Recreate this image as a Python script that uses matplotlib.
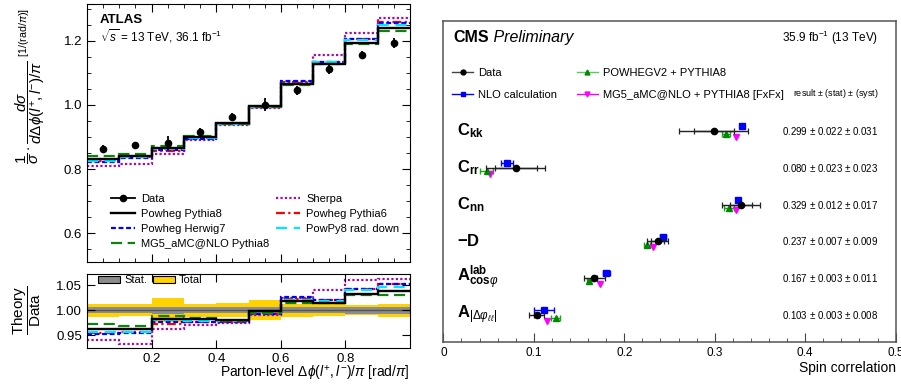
import numpy as np
import matplotlib
matplotlib.use("Agg")
import matplotlib.pyplot as plt
from matplotlib.lines import Line2D
from matplotlib.patches import Patch

plt.rcParams['font.family'] = ['Liberation Sans', 'DejaVu Sans']
plt.rcParams['mathtext.fontset'] = 'custom'
plt.rcParams['mathtext.rm'] = 'Liberation Sans'
plt.rcParams['mathtext.it'] = 'Liberation Sans:italic'
plt.rcParams['mathtext.bf'] = 'Liberation Sans:bold'
plt.rcParams['mathtext.sf'] = 'Liberation Sans'

# ---------------- Left panel data (ATLAS) ----------------
bin_edges = [0.0, 0.1, 0.2, 0.3, 0.4, 0.5, 0.6, 0.7, 0.8, 0.9, 1.0]
data_vals = [0.863, 0.875, 0.881, 0.917, 0.962, 1.000, 1.045, 1.111, 1.156, 1.194]
total_rel = [0.013, 0.012, 0.024, 0.013, 0.014, 0.020, 0.013, 0.012, 0.010, 0.013]
stat_rel = [0.006, 0.006, 0.007, 0.006, 0.006, 0.006, 0.006, 0.006, 0.007, 0.007]

ratio_powheg_py8 = [0.963, 0.962, 0.983, 0.982, 0.980, 0.998, 1.019, 1.015, 1.033, 1.039]
ratio_powheg_hw7 = [0.952, 0.954, 0.977, 0.976, 0.977, 0.993, 1.027, 1.021, 1.042, 1.052]
ratio_mg5_py8 = [0.973, 0.968, 0.989, 0.985, 0.978, 0.995, 1.015, 1.015, 1.030, 1.031]
ratio_sherpa = [0.940, 0.933, 0.963, 0.970, 0.975, 0.991, 1.025, 1.040, 1.060, 1.063]
ratio_powheg_py6 = [0.955, 0.956, 0.973, 0.977, 0.977, 0.993, 1.022, 1.020, 1.042, 1.053]
ratio_raddown = [0.957, 0.957, 0.981, 0.978, 0.978, 0.994, 1.020, 1.019, 1.040, 1.047]

# ---------------- Right panel data (CMS) ----------------
obs_labels = [r'$\mathbf{C}_{\mathbf{kk}}$', r'$\mathbf{C}_{\mathbf{rr}}$', r'$\mathbf{C}_{\mathbf{nn}}$',
              r'$\mathbf{-D}$', r'$\mathbf{A}^{\mathbf{lab}}_{\mathbf{cos}\varphi}$',
              r'$\mathbf{A}_{|\Delta\varphi_{\ell\ell}|}$']
cms_data = [0.299, 0.080, 0.329, 0.237, 0.167, 0.103]
cms_stat = [0.022, 0.023, 0.012, 0.007, 0.003, 0.003]
cms_syst = [0.031, 0.023, 0.017, 0.009, 0.011, 0.008]
nlo_vals = [0.330, 0.0705, 0.3255, 0.2427, 0.180, 0.1114]
nlo_err = [0.002, 0.0068, 0.002, 0.0037, 0.0037, 0.0107]
powheg_vals = [0.3127, 0.0478, 0.3156, 0.225, 0.1607, 0.1243]
powheg_err = [0.0045, 0.007, 0.0055, 0.0037, 0.002, 0.005]
mg5_vals = [0.324, 0.0518, 0.323, 0.232, 0.1736, 0.1143]

fig = plt.figure(figsize=(9.01, 3.85), dpi=100)
ax1 = fig.add_axes([0.0966, 0.3195, 0.3585, 0.670])
ax2 = fig.add_axes([0.0966, 0.0961, 0.3585, 0.1922])
ax3 = fig.add_axes([0.4921, 0.1125, 0.502, 0.8338])

data_arr = np.array(data_vals)
models = [
    ("Sherpa", ratio_sherpa, dict(color='#a010a0', ls=(0, (1, 1)), lw=1.6)),
    ("Powheg Pythia6", ratio_powheg_py6, dict(color='#ff0000', ls=(0, (4, 1.5, 1, 1.5)), lw=1.6)),
    ("Powheg Herwig7", ratio_powheg_hw7, dict(color='#0000ff', ls=(0, (2.2, 1.2)), lw=1.6)),
    ("PowPy8 rad. down", ratio_raddown, dict(color='#00e8ff', ls=(0, (5, 3)), lw=1.6)),
    ("MG5_aMC@NLO Pythia8", ratio_mg5_py8, dict(color='#108010', ls=(0, (5, 2.5)), lw=1.6)),
    ("Powheg Pythia8", ratio_powheg_py8, dict(color='black', ls='-', lw=1.7)),
]
handles = {}
for name, ratio, st in models:
    ratio = np.array(ratio)
    ax1.stairs(ratio * data_arr, bin_edges, baseline=None, **st)
    ax2.stairs(ratio, bin_edges, baseline=None, **st)
    handles[name] = Line2D([], [], **st)

centers = 0.5 * (np.array(bin_edges[:-1]) + np.array(bin_edges[1:]))
ax1.errorbar(centers, data_vals, yerr=data_arr * np.array(total_rel), fmt='o', color='black',
             ms=4.5, elinewidth=1.3, capsize=0, zorder=5)
handles["Data"] = Line2D([], [], color='black', marker='o', ms=4.5, lw=1.3)

ax1.set_xlim(0, 1)
ax1.set_ylim(0.511, 1.314)
ax1.set_yticks([0.6, 0.8, 1.0, 1.2])
ax1.set_yticks(np.arange(0.55, 1.31, 0.05), minor=True)
ax1.set_xticks([0.2, 0.4, 0.6, 0.8])
ax1.set_xticks(np.arange(0.05, 1.0, 0.05), minor=True)
ax1.tick_params(axis='both', which='both', direction='in', top=True, right=True, labelsize=9.5)
ax1.tick_params(which='major', length=6)
ax1.tick_params(which='minor', length=3)
ax1.tick_params(axis='x', labelbottom=False)
ax1.yaxis.set_major_formatter(matplotlib.ticker.FormatStrFormatter('%.1f'))

order = ["Data", "Powheg Pythia8", "Powheg Herwig7", "MG5_aMC@NLO Pythia8",
         "Sherpa", "Powheg Pythia6", "PowPy8 rad. down"]
ax1.legend([handles[n] for n in order], order, ncol=2, loc='upper left',
           bbox_to_anchor=(0.075, 0.265), frameon=False, fontsize=8, borderpad=0,
           borderaxespad=0, handlelength=2.1, handletextpad=0.6, columnspacing=0.6,
           labelspacing=0.45)

ax1.text(0.04, 0.94, 'ATLAS', transform=ax1.transAxes, fontsize=9.5, fontweight='bold',
         va='center', ha='left')
ax1.text(0.04, 0.875, r'$\sqrt{s}$ = 13 TeV, 36.1 fb$^{-1}$', transform=ax1.transAxes,
         fontsize=8.5, va='center', ha='left')

# ratio panel
tot = np.array(total_rel)
stt = np.array(stat_rel)
ax2.stairs(1 + tot, bin_edges, baseline=1 - tot, fill=True, color='#ffd200', zorder=0.5)
ax2.stairs(1 + stt, bin_edges, baseline=1 - stt, fill=True, color='#8c8c8c', zorder=0.6)
ax2.axhline(1.0, color='#555555', lw=1.0, zorder=0.7)
ax2.set_xlim(0, 1)
ax2.set_ylim(0.924, 1.072)
ax2.set_yticks([0.95, 1.00, 1.05])
ax2.set_xticks([0.2, 0.4, 0.6, 0.8])
ax2.yaxis.set_major_formatter(matplotlib.ticker.FormatStrFormatter('%.2f'))
ax2.xaxis.set_major_formatter(matplotlib.ticker.FormatStrFormatter('%.1f'))
ax2.tick_params(axis='both', direction='in', top=True, right=True, labelsize=9.5, length=6)
ax2.legend([Patch(facecolor='#8c8c8c', edgecolor='black', lw=0.8),
            Patch(facecolor='#ffd200', edgecolor='black', lw=0.8)], ['Stat.', 'Total'],
           ncol=2, loc='upper left', bbox_to_anchor=(0.035, 0.98), frameon=False, fontsize=8,
           borderpad=0, borderaxespad=0, handlelength=1.95, handleheight=0.7,
           handletextpad=0.4, columnspacing=0.5)
ax2.set_xlabel(r'Parton-level $\Delta\phi(l^{+}, l^{-})/\pi$ [rad/$\pi$]', fontsize=10,
               ha='right', va='center')
ax2.xaxis.set_label_coords(1.0, -0.34)

fig.text(0.033, 0.979,
         r'$\dfrac{1}{\sigma}\cdot\dfrac{d\sigma}{d\Delta\phi(l^{+}, l^{-})/\pi}\ ^{[1/(\mathrm{rad}/\pi)]}$',
         rotation=90, ha='center', va='top', fontsize=11)
fig.text(0.03, 0.195, r'$\dfrac{\mathrm{Theory}}{\mathrm{Data}}$', rotation=90,
         ha='center', va='center', fontsize=11)

# ---------------- Right panel ----------------
rows = np.arange(len(cms_data))
cd = np.array(cms_data)
total_unc = np.sqrt(np.array(cms_stat) ** 2 + np.array(cms_syst) ** 2)
ax3.errorbar(nlo_vals, rows - 0.13, xerr=nlo_err, fmt='s', color='#0000ff', ms=4.5,
             elinewidth=1.0, capsize=2.5, capthick=1.0, zorder=4)
ax3.errorbar(powheg_vals, rows + 0.09, xerr=powheg_err, fmt='^', color='#11aa11', ms=4,
             mfc='#008800', mec='#008800', elinewidth=1.0, capsize=2.5, capthick=1.0, zorder=4)
ax3.plot(mg5_vals, rows + 0.16, 'v', color='#ff00ff', ms=4.5, zorder=4, ls='none')
ax3.errorbar(cd, rows, xerr=total_unc, fmt='none', ecolor='#222222', elinewidth=1.0,
             capsize=2.5, capthick=0.9, zorder=5)
ax3.errorbar(cd, rows, xerr=cms_stat, fmt='o', color='black', ecolor='#222222', ms=4.5,
             elinewidth=1.0, capsize=2.5, capthick=0.9, zorder=6)

for i, lab in enumerate(obs_labels):
    ax3.text(0.03, rows[i], lab, transform=ax3.get_yaxis_transform(), fontsize=12,
             va='center', ha='left')
    ax3.text(0.962, rows[i], f"{cms_data[i]:.3f} $\\pm$ {cms_stat[i]:.3f} $\\pm$ {cms_syst[i]:.3f}",
             transform=ax3.get_yaxis_transform(), fontsize=7, va='center', ha='right')

ax3.set_xlim(0, 0.5)
ax3.set_ylim(5.73, -3.0)
ax3.set_yticks([])
ax3.set_xticks([0, 0.1, 0.2, 0.3, 0.4, 0.5])
ax3.set_xticklabels(['0', '0.1', '0.2', '0.3', '0.4', '0.5'])
ax3.set_xticks(np.arange(0.02, 0.5, 0.02), minor=True)
ax3.tick_params(axis='x', which='both', direction='in', colors='#444444', labelcolor='black',
                labelsize=8.5)
ax3.tick_params(axis='x', which='major', length=6.5, pad=4)
ax3.tick_params(axis='x', which='minor', length=3.2)
for sp in ax3.spines.values():
    sp.set_color('#555555')
    sp.set_linewidth(1.1)
ax3.set_xlabel('Spin correlation', fontsize=10, ha='right', va='center')
ax3.xaxis.set_label_coords(1.0, -0.082)

cms = ax3.text(0.021, 0.947, 'CMS', transform=ax3.transAxes, fontsize=11.5,
               fontweight='bold', ha='left', va='center')
ax3.annotate(' Preliminary', xy=(1, 0), xycoords=cms, fontsize=11.5, style='italic',
             ha='left', va='bottom')
ax3.text(0.962, 0.947, r'35.9 fb$^{\mathregular{-1}}$ (13 TeV)', transform=ax3.transAxes,
         fontsize=8.5, ha='right', va='center')
ax3.text(0.962, 0.772, r'result $\pm$ (stat) $\pm$ (syst)', transform=ax3.transAxes,
         fontsize=6.5, ha='right', va='center')

leg_handles = [
    Line2D([], [], color='#444444', marker='o', mfc='black', mec='black', ms=3.5, lw=1.0),
    Line2D([], [], color='#0000ff', marker='s', ms=3.5, lw=1.0),
    Line2D([], [], color='#55cc55', marker='^', mfc='#008800', mec='#008800', ms=3.5, lw=1.0),
    Line2D([], [], color='#ff00ff', marker='v', ms=3.5, lw=1.0),
]
ax3.legend(leg_handles, ['Data', 'NLO calculation', 'POWHEGV2 + PYTHIA8',
                         'MG5_aMC@NLO + PYTHIA8 [FxFx]'],
           ncol=2, loc='upper left', bbox_to_anchor=(0.02, 0.853), frameon=False, fontsize=8,
           borderpad=0, borderaxespad=0, handlelength=1.85, handletextpad=0.45,
           columnspacing=1.8, labelspacing=1.05)

fig.savefig('out.png', dpi=100)
